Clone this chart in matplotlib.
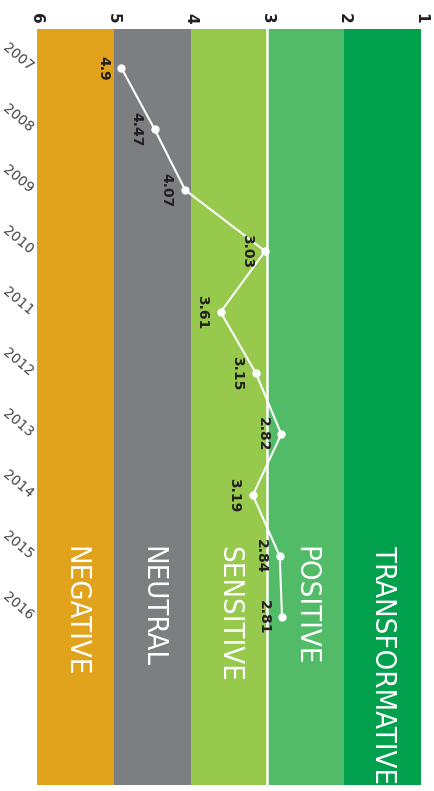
import matplotlib.pyplot as plt

## data
years = [2007, 2008, 2009, 2010, 2011, 2012, 2013, 2014, 2015, 2016]
scores = [4.9, 4.47, 4.07, 3.03, 3.61, 3.15, 2.82, 3.19, 2.84, 2.81]

band_names = ['NEGATIVE', 'NEUTRAL', 'SENSITIVE', 'POSITIVE', 'TRANSFORMATIVE']
band_lo = [5, 4, 3, 2, 1]
band_hi = [6, 5, 4, 3, 2]
band_colors = ['#E1A31C', '#7D7E82', '#97C94C', '#52BB68', '#00A04D']
score_ticks = [6, 5, 4, 3, 2, 1]

fig = plt.figure(figsize=(4.35, 7.91), dpi=100)
ax = fig.add_axes([0.085, 0.0076, 0.883, 0.9557])

##bands
for lo, hi, c, name in zip(band_lo, band_hi, band_colors, band_names):
    ax.axvspan(lo, hi, color=c, lw=0, zorder=0)
    ax.text((lo + hi) / 2, 2014.84, name, rotation=-90, ha='center', va='top',
            color='white', fontsize=21, family='DejaVu Sans', stretch='condensed',
            fontweight='light', zorder=3)

##threshold line
ax.axvline(3, color='white', lw=1.8, zorder=1)

##line
ax.plot(scores, years, color='white', lw=1.5, marker='o', ms=5, zorder=2)
for yr, s in zip(years, scores):
    ax.text(s + 0.24, yr, f'{s:g}', rotation=-90, ha='center', va='center',
            fontsize=10, fontweight='bold', color='#231f20', zorder=3)

ax.set_xlim(6, 1)
ax.set_ylim(2018.75, 2006.36)

ax.xaxis.tick_top()
ax.set_xticks(score_ticks)
ax.set_xticklabels([str(t) for t in score_ticks], rotation=-90, fontsize=11,
                   fontweight='bold', color='#231f20')
ax.set_yticks(years)
ax.set_yticklabels([str(y) for y in years], rotation=-40, fontsize=10,
                   color='#444444', ha='right', va='center', rotation_mode='anchor')
ax.tick_params(length=0, pad=4)
for sp in ax.spines.values():
    sp.set_visible(False)

plt.savefig('out.png', dpi=100)
